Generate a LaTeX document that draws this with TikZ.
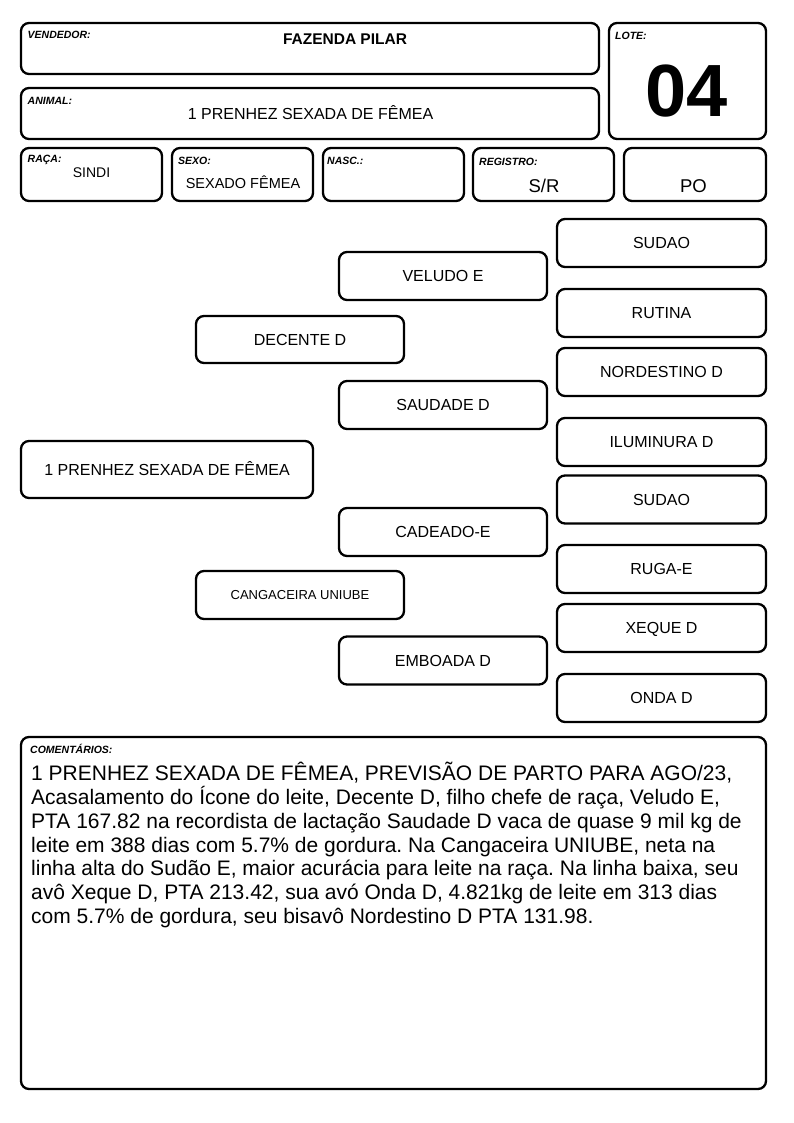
\documentclass[tikz,border=0pt]{standalone}
\usepackage{fontspec}
\setmainfont{Liberation Sans}
\usetikzlibrary{positioning}
\frenchspacing
\tikzstyle{box} = [draw, rectangle, rounded corners=8pt, line width=2.3pt, inner sep=0pt, outer sep=0pt]
\tikzstyle{info} = [box, minimum height=53pt, minimum width=141pt]
\tikzstyle{ped} = [box, minimum height=48pt, minimum width=208pt, font=\fontsize{16}{19}\selectfont, text height=11.5pt, text depth=0pt]
\tikzstyle{tag} = [inner sep=0pt, font=\fontsize{10.5}{12}\selectfont\bfseries\itshape]
\tikzstyle{entry} = [inner sep=0pt, font=\fontsize{16}{19}\selectfont, text height=11.5pt, text depth=0pt]

\begin{document}
\begin{tikzpicture}[x=1pt, y=-1pt]
\useasboundingbox (0,0) rectangle (794,1123);

% Header
\node [box, minimum width=578pt, minimum height=51pt] (vendedor) at (310,48.5) {};
\node [box, minimum width=157pt, minimum height=116pt] (lote) at (687.5,81) {};
\node [box, minimum width=578pt, minimum height=51pt] (animal) at (310,113.5) {};
\node [info] (raca) at (91.5,174.5) {};
\node [info] (sexo) at (242.5,174.5) {};
\node [info] (nasc) at (393.5,174.5) {};
\node [info] (registro) at (543.5,174.5) {};
\node [info, minimum width=142pt] (po) at (695,174.5) {};

\node [tag, anchor=north west, below right=8pt and 6.5pt of vendedor.north west] (vendedortag) {VENDEDOR:};
\node [tag, anchor=north west, below right=9pt and 6pt of lote.north west] (lotetag) {LOTE:};
\node [tag, anchor=north west, below right=9pt and 6.5pt of animal.north west] (animaltag) {ANIMAL:};
\node [tag, anchor=north west, below right=7pt and 6.5pt of raca.north west] (racatag) {RAÇA:};
\node [tag, anchor=north west, below right=9pt and 6pt of sexo.north west] (sexotag) {SEXO:};
\node [tag, anchor=north west, below right=9pt and 4pt of nasc.north west] (nasctag) {NASC.:};
\node [tag, anchor=north west, below right=10pt and 6pt of registro.north west] (registrotag) {REGISTRO:};

\node [entry, font=\fontsize{15.5}{18}\selectfont\bfseries] (vendedortext) at (345,38.5) {FAZENDA PILAR};
\node [inner sep=0pt, font=\fontsize{74}{80}\selectfont\bfseries] (lotetext) at (687,91.5) {04};
\node [entry] (animaltext) at (310.5,113.5) {1 PRENHEZ SEXADA DE FÊMEA};
\node [entry, font=\fontsize{14}{17}\selectfont, text height=10pt] (racatext) at (91.5,172.5) {SINDI};
\node [entry, font=\fontsize{14.5}{17}\selectfont, text height=10.4pt] (sexotext) at (243,183.5) {SEXADO FÊMEA};
\node [entry, font=\fontsize{18.5}{22}\selectfont, text height=13.3pt] (registrotext) at (544,186) {S/R};
\node [entry, font=\fontsize{18.5}{22}\selectfont, text height=13.3pt] (potext) at (693.5,186) {PO};

% Pedigree
\node [ped, minimum width=292pt, minimum height=57pt] (animalped) at (167,469.5) {1 PRENHEZ SEXADA DE FÊMEA};
\node [ped, minimum height=47pt] (pai) at (300,339.5) {DECENTE D};
\node [ped, font=\fontsize{13}{15}\selectfont, text height=9.3pt] (mae) at (300,595) {CANGACEIRA UNIUBE};
\node [ped] (avopp) at (443,276) {VELUDO E};
\node [ped] (avopm) at (443,405) {SAUDADE D};
\node [ped] (avomp) at (443,532) {CADEADO-E};
\node [ped] (avomm) at (443,660.5) {EMBOADA D};
\node [ped, minimum width=209pt] (bisa1) at (661.5,243) {SUDAO};
\node [ped, minimum width=209pt] (bisa2) at (661.5,313) {RUTINA};
\node [ped, minimum width=209pt] (bisa3) at (661.5,372) {NORDESTINO D};
\node [ped, minimum width=209pt] (bisa4) at (661.5,442) {ILUMINURA D};
\node [ped, minimum width=209pt] (bisa5) at (661.5,499.5) {SUDAO};
\node [ped, minimum width=209pt] (bisa6) at (661.5,569) {RUGA-E};
\node [ped, minimum width=209pt] (bisa7) at (661.5,628) {XEQUE D};
\node [ped, minimum width=209pt] (bisa8) at (661.5,698) {ONDA D};

% Comments (base anchor sits on the last line)
\node [box, minimum width=745pt, minimum height=352pt] (comentarios) at (393.5,913) {};
\node [tag, anchor=base west] (comentariostag) at (30,753) {COMENTÁRIOS:};
\node [inner sep=0pt, anchor=base west, align=left, font=\fontsize{21}{23.8}\selectfont] (comentariostext) at (31,923.5) {1 PRENHEZ SEXADA DE FÊMEA, PREVISÃO DE PARTO PARA AGO/23,\\
Acasalamento do Ícone do leite, Decente D, filho chefe de raça, Veludo E,\\
PTA 167.82 na recordista de lactação Saudade D vaca de quase 9 mil kg de\\
leite em 388 dias com 5.7\% de gordura. Na Cangaceira UNIUBE, neta na\\
linha alta do Sudão E, maior acurácia para leite na raça. Na linha baixa, seu\\
avô Xeque D, PTA 213.42, sua avó Onda D, 4.821kg de leite em 313 dias\\
com 5.7\% de gordura, seu bisavô Nordestino D PTA 131.98.};
\end{tikzpicture}
\end{document}
